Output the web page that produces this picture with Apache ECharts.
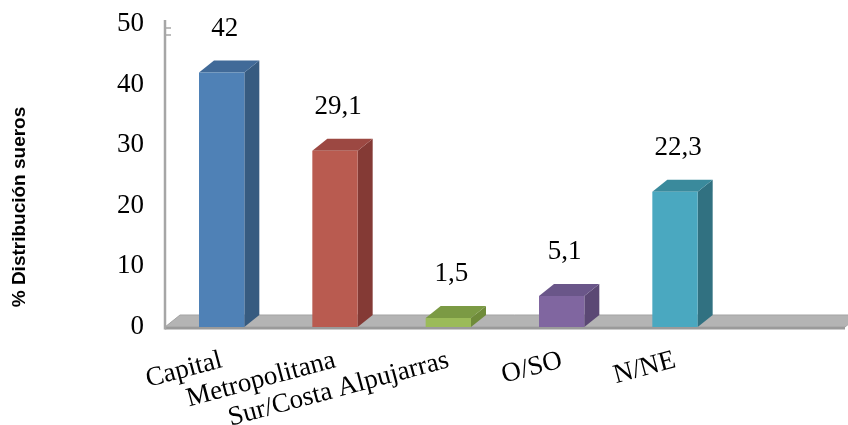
<!DOCTYPE html>
<html>
<head>
<meta charset="utf-8">
<script src="https://cdn.jsdelivr.net/npm/echarts@6/dist/echarts.min.js"></script>
<style>
html,body{margin:0;padding:0;background:#fff;}
#chart{width:848px;height:425px;}
</style>
</head>
<body>
<div id="chart"></div>
<script>
// ---- data ----
const categories = ['Capital', 'Metropolitana', 'Sur/Costa Alpujarras', 'O/SO', 'N/NE', ''];
const values = [42, 29.1, 1.5, 5.1, 22.3];
const yTicks = { min: 0, max: 50, interval: 10 };
const axisTitle = '% Distribución sueros';

// ---- styles ----
const faceColors = [
  { front: '#4f81b6', side: '#375b80', top: '#416a98' },
  { front: '#b95b50', side: '#843a35', top: '#9c4842' },
  { front: '#9bbb59', side: '#6f8b3a', top: '#7b9a44' },
  { front: '#8066a0', side: '#5b4874', top: '#6a5689' },
  { front: '#4aa8c0', side: '#317181', top: '#3a8a9c' }
];
const DX = 15, DY = -12;
const serif = '"Liberation Serif", "Times New Roman", serif';

const chart = echarts.init(document.getElementById('chart'), null, { renderer: 'canvas' });

const barData = values.map((v, i) => [i, v]);

function fmt(v) { return String(v).replace('.', ','); }

const option = {
  animation: false,
  backgroundColor: '#ffffff',
  grid: { left: 165, top: 24, right: 3, bottom: 98, containLabel: false, outerBoundsMode: 'none' },
  xAxis: {
    type: 'category',
    data: categories,
    boundaryGap: true,
    axisLine: { show: false },
    axisTick: { show: false },
    splitLine: { show: false },
    axisLabel: {
      interval: 0,
      rotate: 15,
      margin: 33,
      color: '#000',
      fontFamily: serif,
      fontSize: 27
    }
  },
  yAxis: {
    type: 'value',
    min: yTicks.min,
    max: yTicks.max,
    interval: yTicks.interval,
    axisLine: { show: false },
    axisTick: { show: false },
    splitLine: { show: false },
    axisLabel: {
      margin: 21,
      color: '#000',
      fontFamily: serif,
      fontSize: 27
    }
  },
  graphic: [{
    type: 'text',
    x: 20,
    y: 207,
    rotation: Math.PI / 2,
    style: {
      text: axisTitle,
      align: 'center',
      verticalAlign: 'middle',
      fontFamily: '"Liberation Sans", Arial, sans-serif',
      fontWeight: 'bold',
      fontSize: 19,
      fill: '#000'
    }
  }],
  series: [
    {
      type: 'custom',
      name: 'floor',
      z: 1,
      silent: true,
      data: [[0, 0]],
      renderItem: function (params, api) {
        const cs = params.coordSys;
        const y0 = api.coord([0, yTicks.min])[1];
        const yTop = api.coord([0, yTicks.max])[1];
        const left = cs.x, right = cs.x + cs.width;
        return {
          type: 'group',
          children: [
            {
              type: 'polygon',
              shape: { points: [[left, y0], [left + DX, y0 + DY], [right + DX, y0 + DY], [right, y0]] },
              style: { fill: '#b4b4b4', stroke: '#a3a3a3', lineWidth: 1 }
            },
            {
              type: 'rect',
              shape: { x: left, y: y0, width: right - left, height: 2.5 },
              style: { fill: '#9a9a9a' }
            },
            {
              type: 'line',
              shape: { x1: left, y1: yTop - 4, x2: left, y2: y0 + 2.5 },
              style: { stroke: '#a6a6a6', lineWidth: 2.5 }
            },
            {
              type: 'line',
              shape: { x1: left, y1: yTop + 4, x2: left + 6, y2: yTop + 4 },
              style: { stroke: '#a6a6a6', lineWidth: 1.5 }
            },
            {
              type: 'line',
              shape: { x1: left, y1: yTop + 11, x2: left + 6, y2: yTop + 11 },
              style: { stroke: '#a6a6a6', lineWidth: 1.5 }
            }
          ]
        };
      }
    },
    {
      type: 'custom',
      name: 'bars',
      z: 3,
      data: barData,
      encode: { x: 0, y: 1 },
      renderItem: function (params, api) {
        const i = api.value(0), v = api.value(1);
        const base = api.coord([i, 0]);
        const top = api.coord([i, v]);
        const bw = api.size([1, 0])[0] * 0.4;
        const x0 = base[0] - bw / 2, x1 = base[0] + bw / 2;
        const yb = base[1], yt = top[1];
        const c = faceColors[i % faceColors.length];
        return {
          type: 'group',
          children: [
            {
              type: 'polygon',
              shape: { points: [[x1, yt], [x1 + DX, yt + DY], [x1 + DX, yb + DY], [x1, yb]] },
              style: { fill: c.side }
            },
            {
              type: 'polygon',
              shape: { points: [[x0, yt], [x0 + DX, yt + DY], [x1 + DX, yt + DY], [x1, yt]] },
              style: { fill: c.top }
            },
            {
              type: 'rect',
              shape: { x: x0, y: yt, width: bw, height: yb - yt },
              style: { fill: c.front }
            },
            {
              type: 'text',
              style: {
                text: fmt(v),
                x: base[0] + 3,
                y: yt + DY - 32,
                align: 'center',
                verticalAlign: 'middle',
                fontFamily: serif,
                fontSize: 27,
                fill: '#000'
              }
            }
          ]
        };
      }
    }
  ]
};

chart.setOption(option);
</script>
</body>
</html>
